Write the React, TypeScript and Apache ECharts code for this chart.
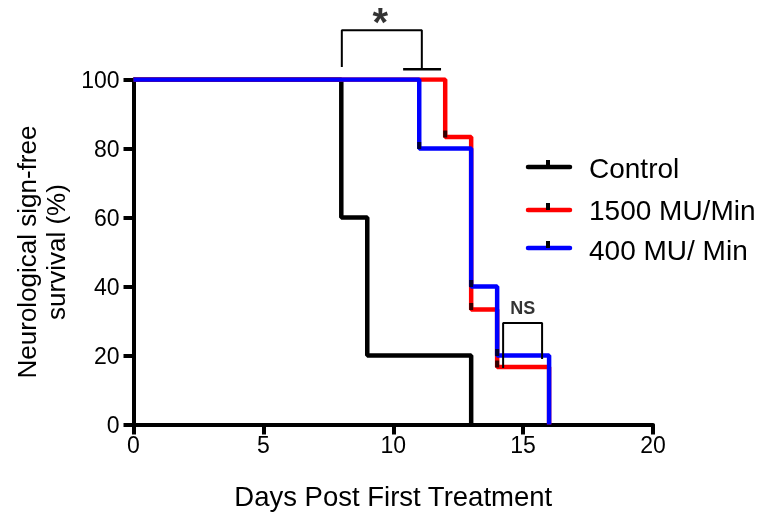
import React, { useEffect, useRef } from "react";
import * as echarts from "echarts";

const xTicks = [0, 5, 10, 15, 20];
const yTicks = [0, 20, 40, 60, 80, 100];
const controlData = [[0, 100], [8, 60], [9, 20], [13, 0]];
const mu1500Data = [[0, 100], [12, 83.33], [13, 33.33], [14, 16.67], [16, 0]];
const mu400Data = [[0, 100], [11, 80], [13, 40], [14, 20], [16, 0]];
const mu1500Censor = [[12, 83.33], [13, 33.33], [14, 16.67]];
const mu400Censor = [[11, 80], [13, 40], [14, 20]];
const starBracket = [[8.02, 103.6], [8.02, 114.3], [11.1, 114.3], [11.1, 103.0]];
const starBase = [[10.38, 103.0], [11.84, 103.0]];
const starLabel = [[9.5, 116.6]];
const nsBracket = [[14.23, 16.4], [14.23, 29.4], [15.73, 29.4], [15.73, 19.0]];
const nsLabel = [[14.99, 33.9]];
const legendNames = ["Control", "1500 MU/Min", "400 MU/ Min"];
const colors = ["#000000", "#ff0000", "#0000ff"];

const FONT = "Arial, 'Liberation Sans', sans-serif";

export default function App() {
  const ref = useRef<HTMLDivElement>(null);
  useEffect(() => {
    if (!ref.current) return;
    const chart = echarts.init(ref.current, null, { renderer: "svg" });
    const stepSeries = (name: string, data: number[][], color: string) => ({
      type: "line",
      name,
      data,
      step: "end",
      symbol: "none",
      lineStyle: { color, width: 4.5 },
      z: 2,
    });
    const censor = (data: number[][]) => ({
      type: "scatter",
      data,
      symbol: "rect",
      symbolSize: [4, 7],
      symbolOffset: [0, -3],
      itemStyle: { color: "#000" },
      z: 4,
    });
    const bracket = (data: number[][], w: number) => ({
      type: "line",
      data,
      symbol: "none",
      clip: false,
      lineStyle: { color: "#000", width: w },
      z: 5,
    });
    const legendGraphics: any[] = [];
    const legendLineY = [167, 210, 248];
    const legendTextY = [168, 210, 250];
    legendNames.forEach((n, i) => {
      legendGraphics.push({
        type: "line",
        shape: { x1: 528, y1: legendLineY[i], x2: 570, y2: legendLineY[i] },
        style: { stroke: colors[i], lineWidth: 4.5, lineCap: "round" },
      });
      legendGraphics.push({
        type: "rect",
        shape: { x: 546, y: legendLineY[i] - 7, width: 4, height: 7 },
        style: { fill: "#000" },
      });
      legendGraphics.push({
        type: "text",
        x: 589,
        y: legendTextY[i],
        style: {
          text: n,
          font: `28px ${FONT}`,
          fill: "#000",
          verticalAlign: "middle",
          textAlign: "left",
        },
      });
    });
    chart.setOption({
      animation: false,
      grid: {
        left: 133.5,
        right: 107,
        top: 79.5,
        bottom: 89.5,
        containLabel: false,
        outerBoundsMode: "none",
      },
      xAxis: {
        type: "value",
        min: 0,
        max: 20,
        interval: 5,
        name: "Days Post First Treatment",
        nameLocation: "middle",
        nameGap: 58,
        nameTextStyle: { fontFamily: FONT, fontSize: 27.5, color: "#000" },
        axisLine: { onZero: false, lineStyle: { color: "#000", width: 4 } },
        axisTick: { length: 10, lineStyle: { color: "#000", width: 4 } },
        axisLabel: { fontFamily: FONT, fontSize: 23, color: "#000", margin: 9 },
        splitLine: { show: false },
      },
      yAxis: {
        type: "value",
        min: 0,
        max: 100,
        interval: 20,
        name: "Neurological sign-free\nsurvival (%)",
        nameLocation: "middle",
        nameGap: 48,
        nameTextStyle: { fontFamily: FONT, fontSize: 26, color: "#000", lineHeight: 29 },
        axisLine: { onZero: false, lineStyle: { color: "#000", width: 4 } },
        axisTick: { length: 10, lineStyle: { color: "#000", width: 4 } },
        axisLabel: { fontFamily: FONT, fontSize: 23, color: "#000", margin: 14 },
        splitLine: { show: false },
      },
      series: [
        stepSeries(legendNames[0], controlData, colors[0]),
        stepSeries(legendNames[1], mu1500Data, colors[1]),
        stepSeries(legendNames[2], mu400Data, colors[2]),
        censor(mu1500Censor),
        censor(mu400Censor),
        bracket(starBracket, 2),
        bracket(starBase, 2.5),
        bracket(nsBracket, 2),
        {
          type: "scatter",
          data: starLabel,
          symbolSize: 0,
          clip: false,
          label: {
            show: true,
            position: "inside",
            formatter: "*",
            fontFamily: FONT,
            fontSize: 40,
            fontWeight: "bold",
            color: "#000",
          },
        },
        {
          type: "scatter",
          data: nsLabel,
          symbolSize: 0,
          clip: false,
          label: {
            show: true,
            position: "inside",
            formatter: "NS",
            fontFamily: FONT,
            fontSize: 18,
            fontWeight: "bold",
            color: "#000",
          },
        },
      ],
      graphic: legendGraphics,
    });
    return () => chart.dispose();
  }, []);
  return (
    <div
      ref={ref}
      style={{ position: "fixed", left: 0, top: 0, width: 760, height: 514 }}
    />
  );
}
